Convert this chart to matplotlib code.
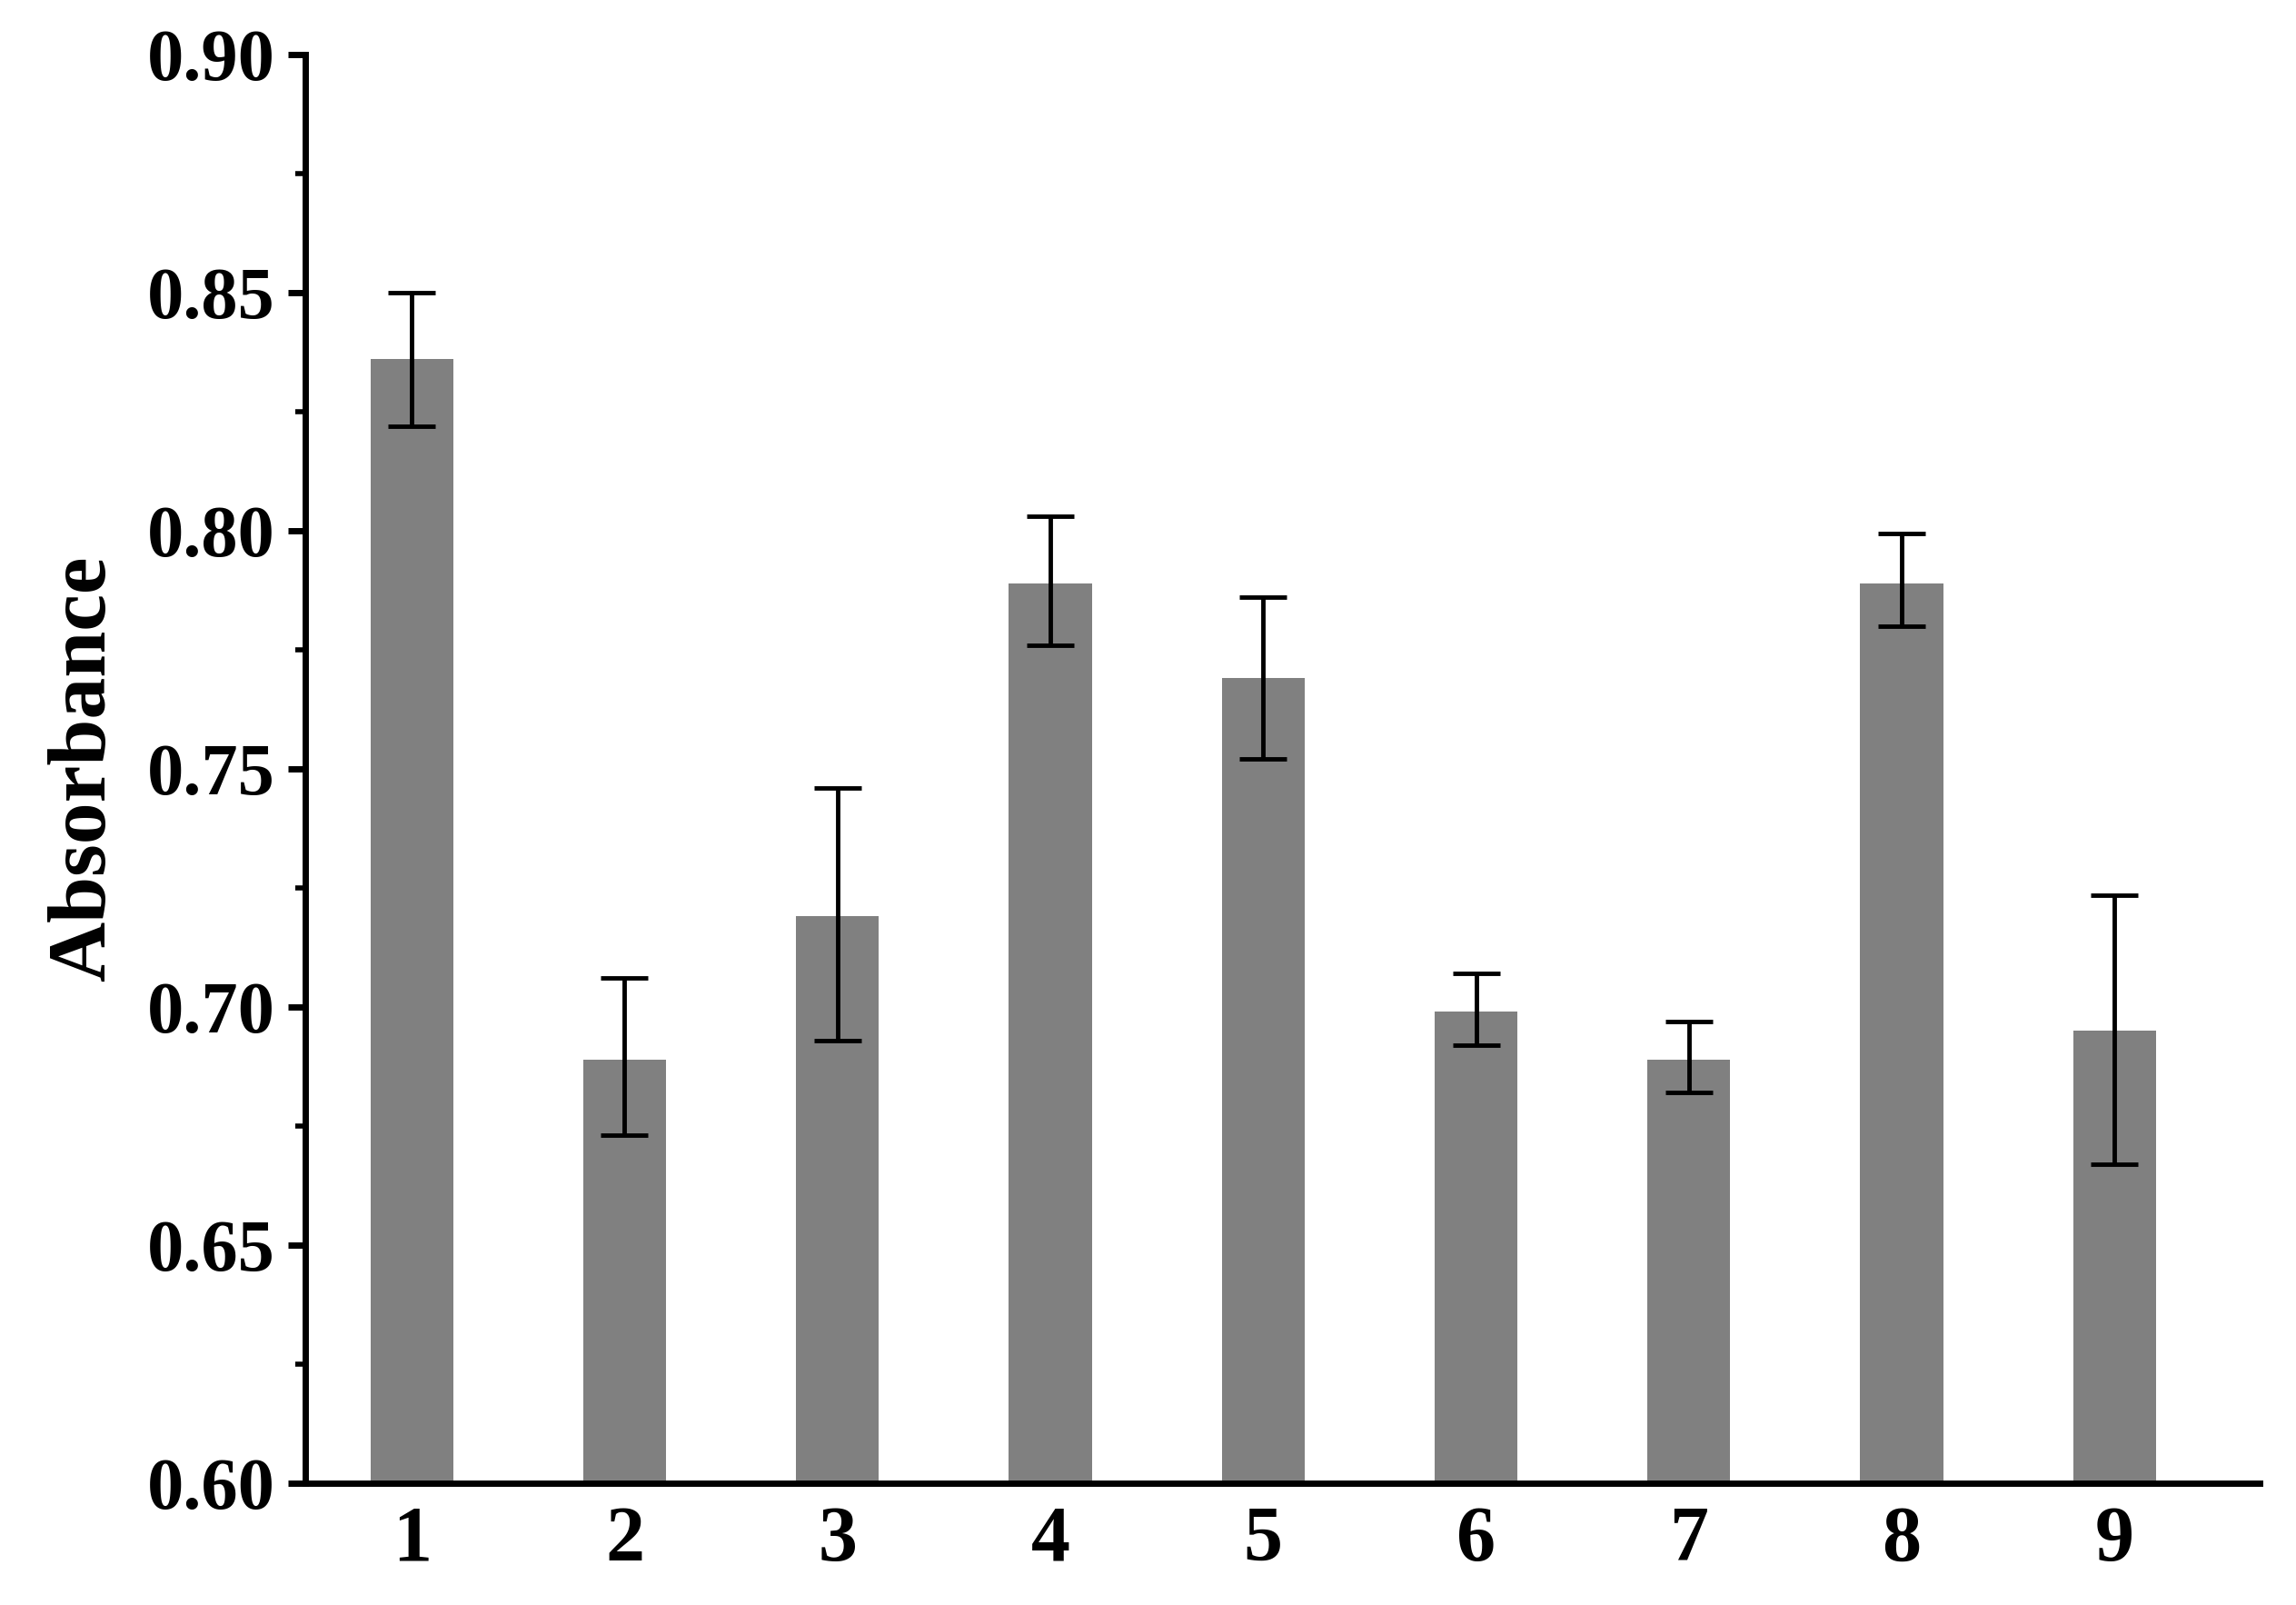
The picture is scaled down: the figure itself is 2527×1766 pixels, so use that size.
import matplotlib
matplotlib.use("Agg")
import matplotlib.pyplot as plt
from matplotlib.ticker import MultipleLocator
import numpy as np

categories = ["1", "2", "3", "4", "5", "6", "7", "8", "9"]
values = [0.836, 0.689, 0.719, 0.789, 0.769, 0.699, 0.689, 0.789, 0.695]
err_upper = [0.850, 0.706, 0.746, 0.803, 0.786, 0.707, 0.697, 0.7995, 0.7234]
err_lower = [0.822, 0.673, 0.693, 0.776, 0.752, 0.692, 0.682, 0.780, 0.667]

plt.rcParams['font.family'] = ['Liberation Serif', 'DejaVu Serif']
plt.rcParams['font.weight'] = 'bold'

fig = plt.figure(figsize=(25.27, 17.66), dpi=100)
ax = fig.add_axes([0.133, 0.076, 0.851, 0.89])
x = np.arange(1, len(categories) + 1)
v = np.array(values)
yerr = [v - np.array(err_lower), np.array(err_upper) - v]
ax.bar(x, v, width=0.39, color='#808080', zorder=2)
ax.errorbar(x, v, yerr=yerr, fmt='none', ecolor='black', elinewidth=3.5,
            capsize=19, capthick=3.5, zorder=3)

ax.set_ylim(0.60, 0.90)
ax.set_xlim(0.5, 9.68)
ax.set_xticks(x)
ax.set_xticklabels(categories)
ax.yaxis.set_major_locator(MultipleLocator(0.05))
ax.yaxis.set_minor_locator(MultipleLocator(0.025))
ax.yaxis.set_major_formatter(matplotlib.ticker.FormatStrFormatter('%.2f'))
for s in ['top', 'right']:
    ax.spines[s].set_visible(False)
for s in ['left', 'bottom']:
    ax.spines[s].set_linewidth(5)
ax.tick_params(axis='y', which='major', direction='out', length=14, width=5, labelsize=58, pad=10)
ax.tick_params(axis='y', which='minor', direction='out', length=8, width=4)
ax.tick_params(axis='x', which='major', length=0, labelsize=62, pad=18)
ax.set_ylabel('Absorbance', fontsize=66, fontweight='bold', labelpad=20)
for lab in ax.get_xticklabels() + ax.get_yticklabels():
    lab.set_fontweight('bold')

fig.savefig('out.png', dpi=100)
